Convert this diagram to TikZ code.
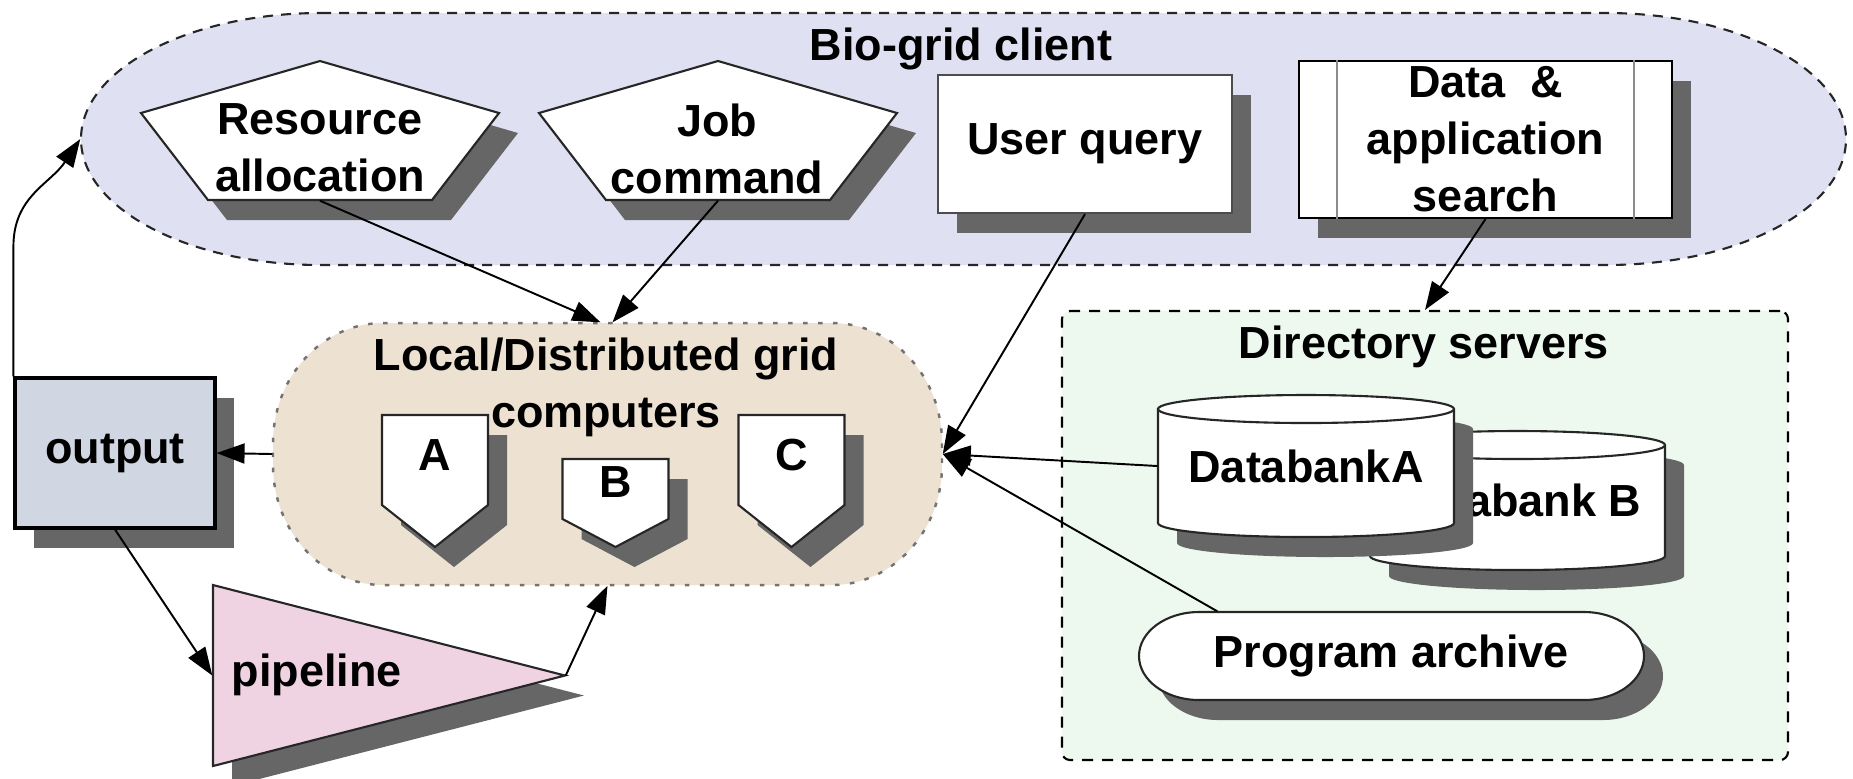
\documentclass[tikz,border=0pt]{standalone}
\usepackage{fontspec}
\setmainfont{Liberation Sans}
\usetikzlibrary{arrows.meta,shadows}

\definecolor{clientblue}{RGB}{223,225,242}
\definecolor{gridbeige}{RGB}{237,225,209}
\definecolor{dirgreen}{RGB}{237,249,239}
\definecolor{outgray}{RGB}{208,214,226}
\definecolor{pipepink}{RGB}{239,211,227}

\tikzset{
  lbl/.style={font=\fontsize{12.8}{16.2}\selectfont\bfseries, inner sep=0pt},
  area/.style={draw=none, inner sep=0pt},
  shadowed/.style={drop shadow={shadow xshift=0.19cm, shadow yshift=-0.2cm,
      fill=black!60, draw=none, opacity=1}},
  item/.style={draw=black!85, line width=0.6pt, fill=white, shadowed},
  arr/.style={-{Triangle[length=2.8mm,width=2mm]}, line width=0.55pt},
}

\begin{document}
\begin{tikzpicture}

    \useasboundingbox (0,0) rectangle (18.53,-7.78);

    % client pane
    \filldraw [fill=clientblue, draw=black!85, line width=0.6pt, dash pattern=on 1mm off 0.8mm]
        (3.21,-0.13) -- (16.06,-0.13) arc [start angle=90, end angle=-90, x radius=2.4, y radius=1.26]
        -- (3.21,-2.65) arc [start angle=270, end angle=90, x radius=2.4, y radius=1.26] -- cycle;
    \node [area, minimum width=17.65cm, minimum height=2.52cm] (bio) at (9.635,-1.39) {};
    \node [lbl, anchor=base] (bioT) at (9.61,-0.60) {Bio-grid client};

    \filldraw [item] (3.20,-0.61) -- (4.99,-1.13) -- (4.32,-2.00) -- (2.08,-2.00) -- (1.41,-1.13) -- cycle;
    \node [area, minimum width=3.58cm, minimum height=1.39cm] (res) at (3.20,-1.305) {};
    \node [lbl, align=center, anchor=north] (resT) at (3.20,-1.03) {Resource\\allocation};

    \filldraw [item] (7.18,-0.61) -- (8.97,-1.13) -- (8.30,-2.00) -- (6.06,-2.00) -- (5.39,-1.13) -- cycle;
    \node [area, minimum width=3.58cm, minimum height=1.39cm] (job) at (7.18,-1.305) {};
    \node [lbl, align=center, anchor=north] (jobT) at (7.17,-1.03) {Job\\command};

    \node [item, lbl, draw=black!70, minimum width=2.94cm, minimum height=1.38cm] (uq) at (10.85,-1.44) {User query};

    \node [item, lbl, draw=black, align=center, minimum width=3.73cm, minimum height=1.57cm] (data) at (14.855,-1.395) {Data\ \ \&\\application\\search};
    \draw [black!45, line width=0.8pt] ([xshift=0.39cm]data.north west) -- ([xshift=0.39cm]data.south west);
    \draw [black!45, line width=0.8pt] ([xshift=-0.39cm]data.north east) -- ([xshift=-0.39cm]data.south east);

    % directory servers
    \node [draw=black, fill=dirgreen, line width=0.6pt, dash pattern=on 1.1mm off 0.9mm, rounded corners=0.08cm,
        minimum width=7.26cm, minimum height=4.49cm] (dir) at (14.25,-5.355) {};
    \node [lbl, anchor=base] (dirT) at (14.24,-3.58) {Directory servers};

    \filldraw [item] (13.70,-4.45) -- (13.70,-5.56) arc [start angle=180, end angle=360, x radius=1.475, y radius=0.14]
        -- (16.65,-4.45) arc [start angle=0, end angle=180, x radius=1.475, y radius=0.14] -- cycle;
    \draw [black!85, line width=0.6pt] (13.70,-4.45) arc [start angle=180, end angle=360, x radius=1.475, y radius=0.14];
    \node [area, lbl, minimum width=2.95cm, minimum height=1.39cm] (dbB) at (15.175,-5.005) {Databank B};

    \filldraw [item] (11.58,-4.09) -- (11.58,-5.23) arc [start angle=180, end angle=360, x radius=1.48, y radius=0.14]
        -- (14.54,-4.09) arc [start angle=0, end angle=180, x radius=1.48, y radius=0.14] -- cycle;
    \draw [black!85, line width=0.6pt] (11.58,-4.09) arc [start angle=180, end angle=360, x radius=1.48, y radius=0.14];
    \node [area, lbl, minimum width=2.96cm, minimum height=1.42cm] (dbA) at (13.06,-4.66) {DatabankA};

    \filldraw [item] (11.99,-6.12) -- (15.84,-6.12) arc [start angle=90, end angle=-90, x radius=0.6, y radius=0.44]
        -- (11.99,-7.00) arc [start angle=270, end angle=90, x radius=0.6, y radius=0.44] -- cycle;
    \node [area, lbl, minimum width=5.05cm, minimum height=0.88cm] (prog) at (13.915,-6.56) {Program archive};

    % grid computers
    \filldraw [fill=gridbeige, draw=black!55, line width=0.7pt, dash pattern=on 0.45mm off 1.05mm]
        (3.83,-3.23) -- (8.32,-3.23) arc [start angle=90, end angle=0, x radius=1.1, y radius=1.2]
        -- (9.42,-4.65) arc [start angle=0, end angle=-90, x radius=1.1, y radius=1.2]
        -- (3.83,-5.85) arc [start angle=270, end angle=180, x radius=1.1, y radius=1.2]
        -- (2.73,-4.43) arc [start angle=180, end angle=90, x radius=1.1, y radius=1.2] -- cycle;
    \node [area, minimum width=6.69cm, minimum height=2.62cm] (local) at (6.075,-4.54) {};
    \node [lbl, align=center, anchor=north] (localT) at (6.06,-3.376) {Local/Distributed grid\\computers};

    \foreach \x/\t/\s/\lab/\b in {4.35/4.15/5.05/A/4.70, 6.155/4.59/5.19/B/4.97, 7.915/4.15/5.05/C/4.70} {
        \filldraw [item] (\x-0.53,-\t) -- (\x+0.53,-\t) -- (\x+0.53,-\s) -- (\x,-5.47) -- (\x-0.53,-\s) -- cycle;
        \node [lbl, anchor=base] (pc\lab) at (\x,-\b) {\lab};
    }

    % output and pipeline
    \node [item, lbl, fill=outgray, draw=black, line width=0.9pt, minimum width=2.0cm, minimum height=1.5cm] (out) at (1.15,-4.53) {output};

    \filldraw [item, fill=pipepink] (2.13,-5.85) -- (5.65,-6.755) -- (2.13,-7.66) -- cycle;
    \node [area, minimum width=3.52cm, minimum height=1.81cm] (pipe) at (3.89,-6.755) {};
    \node [lbl, anchor=base west] (pipeT) at (2.31,-6.86) {pipeline};

    % connectors
    \draw [arr] (res.south) -- ([xshift=-0.07cm]local.north);
    \draw [arr] (job.south) -- ([xshift=0.05cm]local.north);
    \draw [arr] (uq.south) -- (local.east);
    \draw [arr] (dbA.west) -- (local.east);
    \draw [arr] ([xshift=0.79cm]prog.north west) -- (local.east);
    \draw [arr] (data.south) -- (dir.north);
    \draw [arr] (local.west) -- (out.east);
    \draw [arr] (out.south) -- (pipe.west);
    \draw [arr] (pipe.east) -- (local.south);
    \draw [arr] (out.north west) -- ++(0,1.3) .. controls +(0,0.5) and +(-0.3,-0.45) .. (bio.west);

\end{tikzpicture}
\end{document}
